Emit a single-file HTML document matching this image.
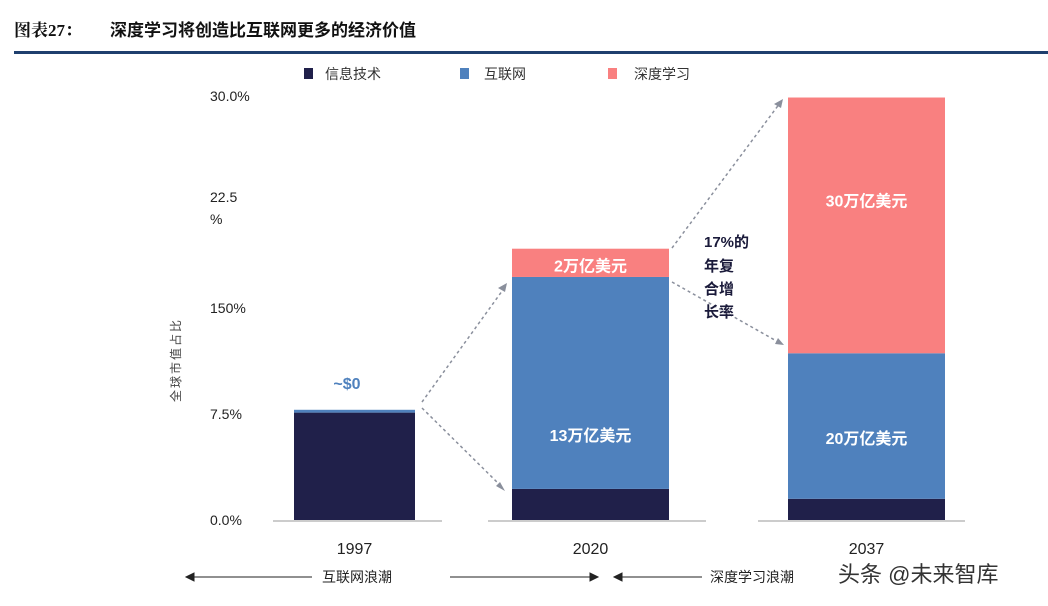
<!DOCTYPE html>
<html><head><meta charset="utf-8"><style>
body{margin:0;background:#fff;width:1048px;height:601px;overflow:hidden;font-family:"Liberation Sans","Noto Sans CJK SC",sans-serif}
</style></head><body>
<svg width="1048" height="601" xmlns="http://www.w3.org/2000/svg" font-family="Liberation Sans, Noto Sans CJK SC, sans-serif">
<text x="14" y="36" font-size="17" font-weight="bold" fill="#111" font-family="Liberation Serif, Noto Serif CJK SC, serif">图表27：</text>
<text x="110" y="36" font-size="17" font-weight="bold" fill="#111">深度学习将创造比互联网更多的经济价值</text>
<rect x="14" y="51" width="1034" height="3" fill="#1f3f6e"/>
<g font-size="14" fill="#333">
<rect x="304" y="68" width="9" height="11" fill="#20204a"/><text x="325" y="79">信息技术</text>
<rect x="460" y="68" width="9" height="11" fill="#4f81bd"/><text x="484" y="79">互联网</text>
<rect x="608" y="68" width="9" height="11" fill="#f98080"/><text x="634" y="79">深度学习</text>
</g>
<g id="axis" font-size="14" fill="#222"></g>
<text transform="translate(180,360) rotate(-90)" font-size="12" fill="#444" text-anchor="middle" letter-spacing="2">全球市值占比</text>
<g id="bars"></g>
<g stroke="#8a8f9c" stroke-width="1.5" stroke-dasharray="3,3" fill="none">
<line x1="422" y1="402" x2="505" y2="287"/><line x1="422" y1="408" x2="503" y2="488"/>
<line x1="672" y1="248" x2="780" y2="103"/><line x1="672" y1="282" x2="780" y2="343"/>
</g>
<g fill="#8a8f9c"><polygon points="507,283 498,288 505,292"/><polygon points="505,491 496,486 500,482"/><polygon points="783,99 774,104 781,108"/><polygon points="784,345 775,344 778,338"/></g>
<g font-size="15" font-weight="bold" fill="#1a1a3a">
<text x="704" y="247">17%的</text><text x="704" y="271">年复</text><text x="704" y="294">合增</text><text x="704" y="317">长率</text></g>
<text x="347" y="389" font-size="16" font-weight="bold" fill="#4f81bd" text-anchor="middle">~$0</text>
<g font-size="14" fill="#222" stroke="#222">
<line x1="190" y1="577" x2="312" y2="577"/><polygon points="186,577 194,573 194,581"/>
<text x="322" y="582" stroke="none">互联网浪潮</text>
<line x1="450" y1="577" x2="594" y2="577"/><polygon points="598,577 590,573 590,581"/>
<line x1="618" y1="577" x2="702" y2="577"/><polygon points="614,577 622,573 622,581"/>
<text x="710" y="582" stroke="none">深度学习浪潮</text></g>
<text x="838" y="582" font-size="22" fill="#333">头条 @未来智库</text>
<script>
const categories=["1997","2020","2037"];
const itValues=[7.6,2.2,1.5];
const netValues=[0.2,15.0,10.3];
const dlValues=[0,2.0,18.1];
const segLabels=[["","",""],["","13万亿美元","2万亿美元"],["","20万亿美元","30万亿美元"]];
const labelValues=[[0,0,0],[0,6.0,18.0],[0,5.8,22.6]];
const tickValues=[0,7.5,15,22.5,30];
const tickLabels=["0.0%","7.5%","150%","22.5\n%","30.0%"];
const y=v=>520-v*14.13;
const xs=[294,512,788],ws=[121,157,157],base=[[273,442],[488,706],[758,965]];
const ns="http://www.w3.org/2000/svg";
const ax=document.getElementById('axis'),bg=document.getElementById('bars');
tickValues.forEach((v,i)=>{const parts=tickLabels[i].split("\n");parts.forEach((p,j)=>{const t=document.createElementNS(ns,'text');


t.setAttribute('x',210);t.setAttribute('y',y(v)+5+j*22-(parts.length>1?5:0));t.textContent=p;ax.appendChild(t);});});
const cols=["#20204a","#4f81bd","#f98080"];
categories.forEach((c,i)=>{
const l=document.createElementNS(ns,'line');


l.setAttribute('x1',base[i][0]);l.setAttribute('x2',base[i][1]);l.setAttribute('y1',521);l.setAttribute('y2',521);l.setAttribute('stroke','#ccc');l.setAttribute('stroke-width',2);bg.appendChild(l);
let acc=0;[itValues[i],netValues[i],dlValues[i]].forEach((v,k)=>{if(v<=0)return;
const r=document.createElementNS(ns,'rect');


r.setAttribute('x',xs[i]);r.setAttribute('width',ws[i]);r.setAttribute('y',y(acc+v));r.setAttribute('height',y(acc)-y(acc+v));r.setAttribute('fill',cols[k]);bg.appendChild(r);
if(segLabels[i][k]){const t=document.createElementNS(ns,'text');


t.setAttribute('x',xs[i]+ws[i]/2);t.setAttribute('y',y(labelValues[i][k])+6);t.setAttribute('text-anchor','middle');t.setAttribute('fill','#fff');t.setAttribute('font-size',16);t.setAttribute('font-weight','bold');t.textContent=segLabels[i][k];bg.appendChild(t);}
acc+=v;});
const t=document.createElementNS(ns,'text');


t.setAttribute('x',xs[i]+ws[i]/2);t.setAttribute('y',554);t.setAttribute('text-anchor','middle');t.setAttribute('font-size',16);t.setAttribute('fill','#222');t.textContent=c;bg.appendChild(t);});
</script>
</svg></body></html>
